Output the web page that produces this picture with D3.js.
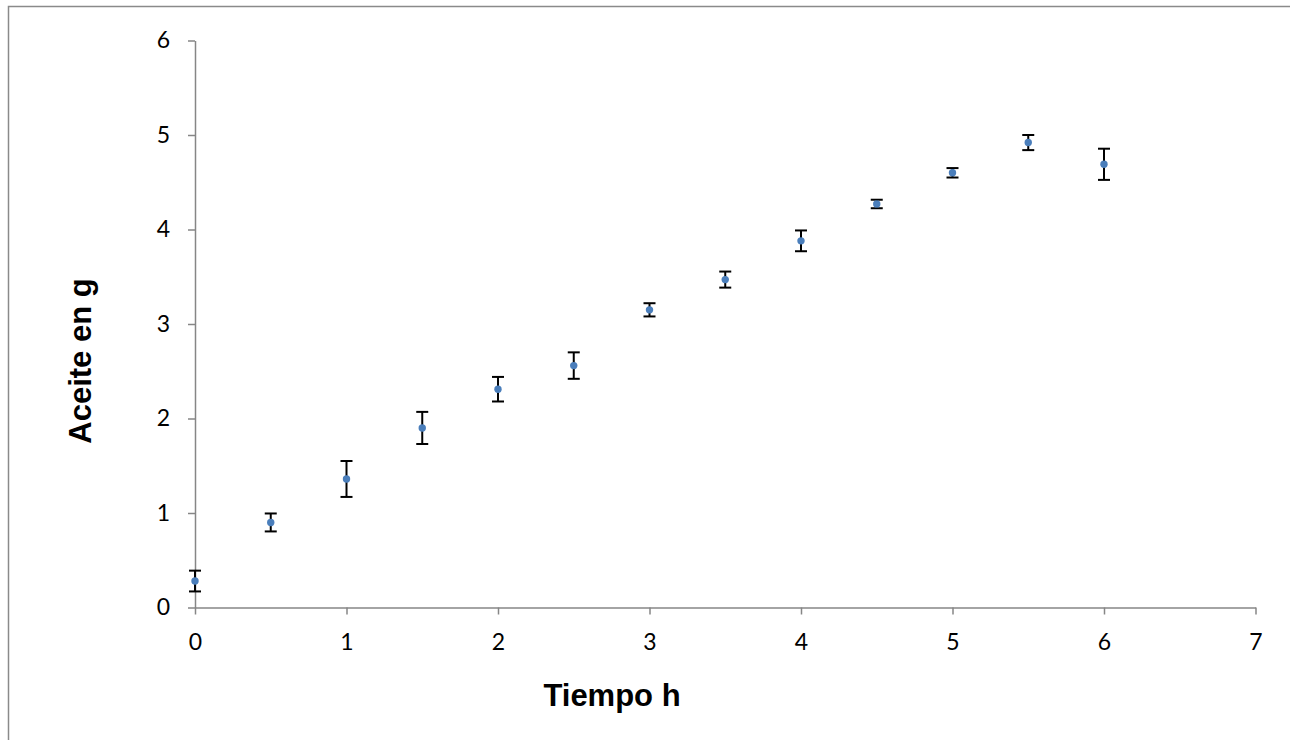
<!DOCTYPE html>
<html>
<head>
<meta charset="utf-8">
<script src="https://cdn.jsdelivr.net/npm/d3@7"></script>
<style>
  body { margin: 0; background: #fff; }
  svg { display: block; }
</style>
</head>
<body>
<svg id="chart" width="1290" height="740"></svg>
<script>
// Tiempo (h) vs aceite (g), with error bars
const tiempo = [0, 0.5, 1, 1.5, 2, 2.5, 3, 3.5, 4, 4.5, 5, 5.5, 6];
const aceite = [0.28, 0.90, 1.36, 1.90, 2.31, 2.56, 3.15, 3.47, 3.88, 4.27, 4.60, 4.92, 4.69];
const errores = [0.11, 0.095, 0.19, 0.17, 0.13, 0.14, 0.07, 0.085, 0.11, 0.045, 0.05, 0.08, 0.165];
const xTicks = [0, 1, 2, 3, 4, 5, 6, 7];
const yTicks = [0, 1, 2, 3, 4, 5, 6];

const svg = d3.select('#chart');
const axisColor = '#868686';

// outer chart frame (runs past the window on right and bottom)
svg.append('rect')
    .attr('x', 8.5).attr('y', 6.5)
    .attr('width', 1400).attr('height', 900)
    .attr('fill', 'none')
    .attr('stroke', '#8a8a8a')
    .attr('stroke-width', 1.5);

const x = d3.scaleLinear().domain([0, 7]).range([195, 1255.5]);
const y = d3.scaleLinear().domain([0, 6]).range([607.5, 40.5]);

const xAxis = svg.append('g')
    .attr('transform', `translate(0,${y(0)})`)
    .call(d3.axisBottom(x).tickValues(xTicks).tickFormat(d3.format('d'))
        .tickSize(7).tickSizeOuter(0).tickPadding(19));

const yAxis = svg.append('g')
    .attr('transform', `translate(${x(0)},0)`)
    .call(d3.axisLeft(y).tickValues(yTicks).tickFormat(d3.format('d'))
        .tickSize(7).tickSizeOuter(0).tickPadding(18));

[xAxis, yAxis].forEach(g => {
    g.select('.domain').attr('stroke', axisColor).attr('stroke-width', 1.5);
    g.selectAll('.tick line').attr('stroke', axisColor).attr('stroke-width', 1.5);
    g.selectAll('.tick text')
        .attr('fill', '#000')
        .style('font-family', 'Lato, "Open Sans", sans-serif')
        .style('font-size', '23px');
});

// error bars
const bars = svg.append('g').selectAll('g')
    .data(tiempo.map((t, i) => ({ t, v: aceite[i], e: errores[i] })))
    .enter().append('g')
    .attr('stroke', '#000')
    .attr('stroke-width', 2);

bars.append('line')
    .attr('x1', d => x(d.t)).attr('x2', d => x(d.t))
    .attr('y1', d => y(d.v + d.e)).attr('y2', d => y(d.v - d.e));
bars.append('line')
    .attr('x1', d => x(d.t) - 6).attr('x2', d => x(d.t) + 6)
    .attr('y1', d => y(d.v + d.e)).attr('y2', d => y(d.v + d.e));
bars.append('line')
    .attr('x1', d => x(d.t) - 6).attr('x2', d => x(d.t) + 6)
    .attr('y1', d => y(d.v - d.e)).attr('y2', d => y(d.v - d.e));

// markers
svg.append('g').selectAll('circle')
    .data(tiempo)
    .enter().append('circle')
    .attr('cx', d => x(d))
    .attr('cy', (d, i) => y(aceite[i]))
    .attr('r', 3.7)
    .attr('fill', '#4a7ebb');

// axis titles
svg.append('text')
    .attr('x', 612).attr('y', 706)
    .attr('text-anchor', 'middle')
    .style('font-family', '"Liberation Sans", Arial, sans-serif')
    .style('font-weight', 'bold')
    .style('font-size', '31px')
    .text('Tiempo h');

svg.append('text')
    .attr('transform', 'translate(91,361) rotate(-90)')
    .attr('text-anchor', 'middle')
    .style('font-family', '"Liberation Sans", Arial, sans-serif')
    .style('font-weight', 'bold')
    .style('font-size', '31px')
    .text('Aceite en g');
</script>
</body>
</html>
